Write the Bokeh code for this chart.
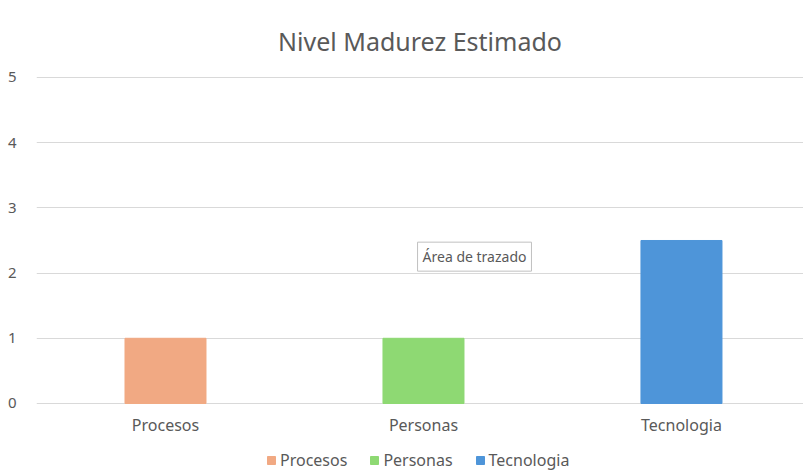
from bokeh.plotting import figure
from bokeh.models import ColumnDataSource, Range1d, FixedTicker, Legend, LegendItem, Label
from bokeh.core.properties import value
from bokeh.embed import file_html
from bokeh.resources import INLINE

categories = ["Procesos", "Personas", "Tecnologia"]
values = [1, 1, 2.5]
colors = ["#F1A983", "#8ED973", "#4E95D9"]
y_ticks = [0, 1, 2, 3, 4, 5]

FONT = "Noto Sans"
GRAY = "#595959"
LABEL_Y = -0.33   # vertical position of the category labels (below the baseline)

positions = list(range(len(categories)))
src = ColumnDataSource(dict(x=positions, top=values, color=colors, cat=categories))

p = figure(width=803, height=471, output_backend="svg", toolbar_location=None,
           x_range=Range1d(-0.5, 2.473), y_range=Range1d(-1.043, 5.0153),
           min_border_left=36, min_border_right=0, min_border_top=76, min_border_bottom=0)
p.title.text = "Nivel Madurez Estimado"
p.title.align = "center"
p.title.text_font = FONT
p.title.text_font_size = "25px"
p.title.text_font_style = "normal"
p.title.text_color = GRAY
p.title.standoff = 38
p.outline_line_color = None

r = p.vbar(x="x", top="top", width=0.314, color="color", source=src)

p.text(x=positions, y=[LABEL_Y] * len(categories), text=categories,
       text_font=value(FONT), text_font_size="16px", text_color=GRAY,
       text_align="center", text_baseline="middle")

p.xaxis.visible = False
p.yaxis.ticker = FixedTicker(ticks=y_ticks)
ax = p.yaxis[0]
ax.axis_line_color = None
ax.major_tick_line_color = None
ax.minor_tick_line_color = None
ax.major_label_text_font = FONT
ax.major_label_text_font_size = "15px"
ax.major_label_text_color = GRAY
ax.major_label_standoff = 14
p.xgrid.grid_line_color = None
p.ygrid.grid_line_color = "#D9D9D9"
p.ygrid.ticker = FixedTicker(ticks=y_ticks)

items = [LegendItem(label=c, renderers=[r], index=i) for i, c in enumerate(categories)]
legend = Legend(items=items, orientation="horizontal", location=(230, 0),
                label_text_font=FONT, label_text_font_size="16px", label_text_color=GRAY,
                glyph_width=10, glyph_height=10, label_standoff=4, spacing=22,
                label_height=16, border_line_color=None, background_fill_alpha=0,
                padding=2, margin=0)
p.add_layout(legend)

tip = Label(x=0.977, y=2.03, text="Área de trazado", text_font=FONT, text_font_size="14px",
            text_color=GRAY, background_fill_color="white", border_line_color="#C0C0C0",
            padding=5, text_baseline="bottom")
p.add_layout(tip)

open("out.html", "w").write(file_html(p, INLINE))
